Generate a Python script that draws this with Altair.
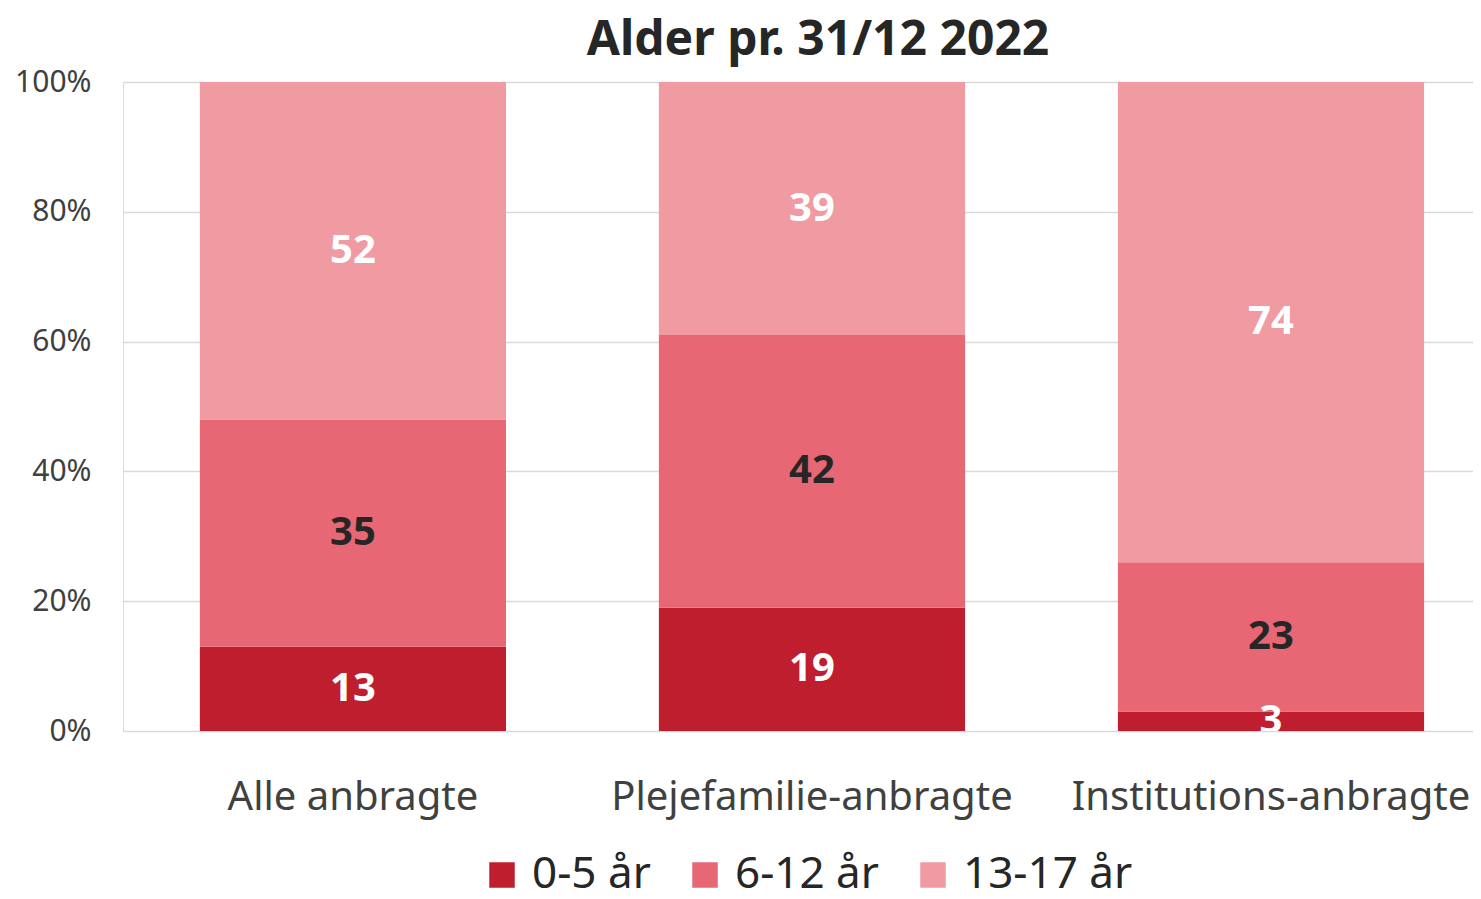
import altair as alt
import pandas as pd

categories = ["Alle anbragte", "Plejefamilie-anbragte", "Institutions-anbragte"]
groups = ["0-5 år", "6-12 år", "13-17 år"]
age_0_5 = [13, 19, 3]
age_6_12 = [35, 42, 23]
age_13_17 = [52, 39, 74]
colors = ["#BE1E2D", "#E86775", "#F09AA1"]

rows = []
for i, cat in enumerate(categories):
    start = 0
    for g, vals in zip(groups, [age_0_5, age_6_12, age_13_17]):
        v = vals[i]
        rows.append({"cat": cat, "group": g, "order": groups.index(g),
                     "start": start, "end": start + v, "mid": start + v / 2, "value": v})
        start += v
df = pd.DataFrame(rows)

FONT = "Noto Sans"

x = alt.X("cat:N", sort=categories, title=None,
          scale=alt.Scale(paddingInner=0.333, paddingOuter=0.137, align=0.611),
          axis=alt.Axis(labelAngle=0, labelFontSize=40, labelColor="#404040", labelFont=FONT,
                        ticks=False, domain=False, labelPadding=46, labelLimit=0))

bars = alt.Chart(df).mark_bar().encode(
    x=x,
    y=alt.Y("start:Q", scale=alt.Scale(domain=[0, 100]), title=None,
            axis=alt.Axis(values=[0, 20, 40, 60, 80, 100], labelExpr="datum.value + '%'",
                          labelFontSize=30, labelColor="#404040", labelFont=FONT,
                          ticks=False, domain=False, labelPadding=32,
                          gridColor="#D9D9D9", gridWidth=1.5)),
    y2="end:Q",
    color=alt.Color("group:N", sort=groups,
                    scale=alt.Scale(domain=groups, range=colors),
                    legend=alt.Legend(title=None, orient="none", direction="horizontal",
                                      legendX=357, legendY=771,
                                      labelFontSize=44, labelColor="#262626", labelFont=FONT,
                                      symbolType="square", symbolSize=650, symbolStrokeWidth=0,
                                      columnPadding=32, labelOffset=8, labelLimit=0)),
    order=alt.Order("order:Q"),
)

labels = alt.Chart(df).mark_text(fontSize=40, fontWeight="bold", font=FONT, clip=True,
                                 baseline="middle").encode(
    x=alt.X("cat:N", sort=categories),
    y=alt.Y("mid:Q"),
    text=alt.Text("value:Q"),
    color=alt.condition("datum.group == '6-12 år'", alt.value("#262626"), alt.value("#FFFFFF")),
)

chart = alt.layer(bars, labels).properties(
    width=1350, height=649,
    title=alt.TitleParams("Alder pr. 31/12 2022", fontSize=48, font=FONT, fontWeight="bold",
                          color="#262626", anchor="middle", dx=20, offset=2),
).configure_view(stroke=None).configure(padding={"left": 6, "top": 9, "right": 0, "bottom": 0})

chart.save("out.html", embed_options={"renderer": "svg", "actions": False})
